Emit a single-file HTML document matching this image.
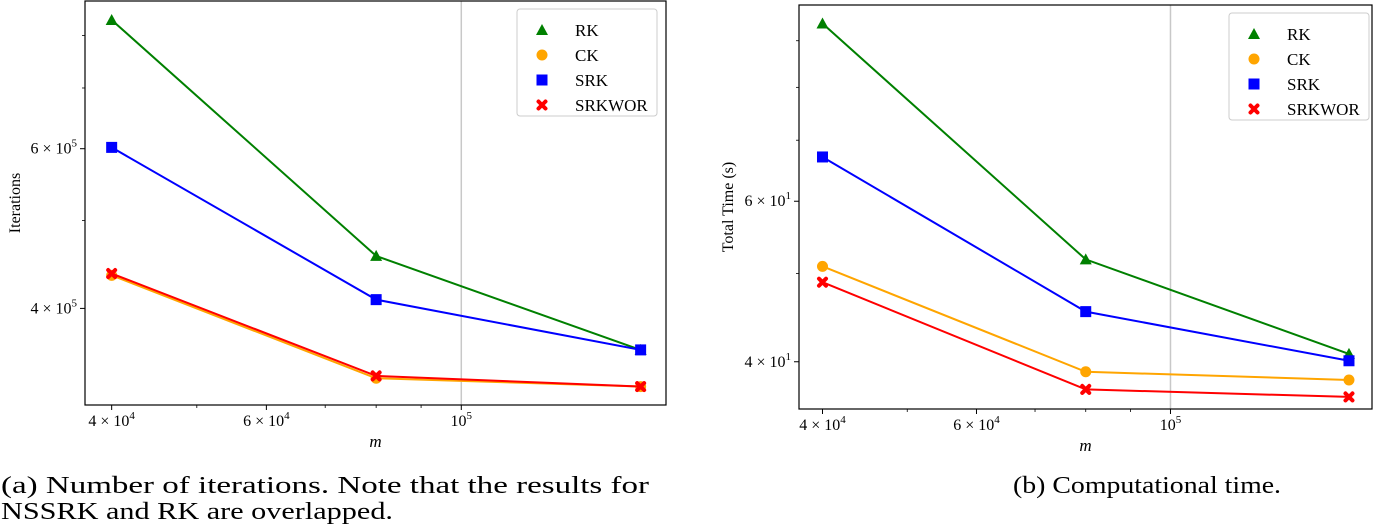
<!DOCTYPE html>
<html><head><meta charset="utf-8">
<style>
body{margin:0;background:#fff;width:1382px;height:530px;overflow:hidden;font-family:"Liberation Serif",serif;}
svg{position:absolute;left:0;top:0;}
</style></head>
<body>
<svg id="svg" width="1382" height="530">
<text x="1" y="493" font-size="24" textLength="648" lengthAdjust="spacingAndGlyphs">(a) Number of iterations. Note that the results for</text>
<text x="1" y="519" font-size="24" textLength="392" lengthAdjust="spacingAndGlyphs">NSSRK and RK are overlapped.</text>
<text x="1013" y="493" font-size="24" textLength="268" lengthAdjust="spacingAndGlyphs">(b) Computational time.</text>
</svg>
<script>
const mValues = [40000, 80000, 160000];
const seriesNames = ["RK", "CK", "SRK", "SRKWOR"];
const itersRK = [832000, 457000, 360000];
const itersCK = [435000, 335000, 328000];
const itersSRK = [602000, 409000, 360000];
const itersSRKWOR = [437000, 337000, 328000];
const timeRK = [94.0, 51.8, 40.8];
const timeCK = [50.9, 39.0, 38.2];
const timeSRK = [67.1, 45.4, 40.1];
const timeSRKWOR = [48.9, 37.3, 36.6];
const xTickVals = [40000, 60000, 100000];
const xTickLabels = ["4 × 10<tspan dy='-7' font-size='11'>4</tspan>", "6 × 10<tspan dy='-7' font-size='11'>4</tspan>", "10<tspan dy='-7' font-size='11'>5</tspan>"];
const yTicksA = [400000, 600000];
const yTickLabelsA = ["4 × 10<tspan dy='-7' font-size='11'>5</tspan>", "6 × 10<tspan dy='-7' font-size='11'>5</tspan>"];
const yTicksB = [40, 60];
const yTickLabelsB = ["4 × 10<tspan dy='-7' font-size='11'>1</tspan>", "6 × 10<tspan dy='-7' font-size='11'>1</tspan>"];

const NS="http://www.w3.org/2000/svg";
const svg=document.getElementById('svg');
function mk(tag,attrs,parent,name){const e=document.createElementNS(NS,tag);for(const k in attrs)e.setAttribute(k,attrs[k]);


(parent||svg).appendChild(e);return e;}
const colors={RK:"#008000",CK:"#ffa500",SRK:"#0000ff",SRKWOR:"#ff0000"};

function marker(g,s,x,y,name){
  const c=colors[s];
  if(s==="RK") mk('polygon',{points:`${x},${y-6} ${x-6},${y+5} ${x+6},${y+5}`,fill:c},g,name);
  else if(s==="CK") mk('circle',{cx:x,cy:y,r:5.5,fill:c},g,name);
  else if(s==="SRK") mk('rect',{x:x-5.5,y:y-5.5,width:11,height:11,fill:c},g,name);
  else { mk('path',{d:`M${x-3.5},${y-3.5}L${x+3.5},${y+3.5}M${x+3.5},${y-3.5}L${x-3.5},${y+3.5}`,stroke:c,'stroke-width':4,'stroke-linecap':'round'},g,name); }
}

function chart(o){
  const g=mk('g',{},svg,o.name);
  const lx=Math.log10(o.xmin), hx=Math.log10(o.xmax), ly=Math.log10(o.ymin), hy=Math.log10(o.ymax);
  const X=v=>o.L+(Math.log10(v)-lx)/(hx-lx)*(o.R-o.L);
  const Y=v=>o.B-(Math.log10(v)-ly)/(hy-ly)*(o.B-o.T);
  mk('line',{x1:X(100000),x2:X(100000),y1:o.T,y2:o.B,stroke:'#c8c8c8','stroke-width':1.5},g,'grid-line-1e5');
  xTickVals.forEach((v,i)=>{
    mk('line',{x1:X(v),x2:X(v),y1:o.B,y2:o.B+5,stroke:'#000','stroke-width':1},g,'x-tick');
    const t=mk('text',{x:X(v),y:o.B+21,'text-anchor':'middle','font-size':16},g,'x-tick-label');
    t.innerHTML=xTickLabels[i];
  });
  [50000,70000,80000,90000].forEach(v=>mk('line',{x1:X(v),x2:X(v),y1:o.B,y2:o.B+3,stroke:'#000','stroke-width':0.8},g,'x-minor-tick'));
  o.yt.forEach((v,i)=>{
    mk('line',{x1:o.L-5,x2:o.L,y1:Y(v),y2:Y(v),stroke:'#000','stroke-width':1},g,'y-tick');
    const t=mk('text',{x:o.L-8,y:Y(v)+5,'text-anchor':'end','font-size':16},g,'y-tick-label');
    t.innerHTML=o.ytl[i];
  });
  o.minor.forEach(v=>{if(v>o.ymin&&v<o.ymax)mk('line',{x1:o.L-3,x2:o.L,y1:Y(v),y2:Y(v),stroke:'#000','stroke-width':0.8},g,'y-minor-tick');});
  const xl=mk('text',{x:(o.L+o.R)/2,y:o.B+42,'text-anchor':'middle','font-size':17,'font-style':'italic'},g,'x-axis-title');xl.textContent='m';
  const yl=mk('text',{x:0,y:0,'text-anchor':'middle','font-size':16,transform:`translate(${o.ylx},${(o.T+o.B)/2}) rotate(-90)`},g,'y-axis-title');yl.textContent=o.ylabel;
  o.series.forEach((arr,si)=>{
    const s=seriesNames[si];
    mk('polyline',{points:arr.map((v,i)=>X(mValues[i])+','+Y(v)).join(' '),fill:'none',stroke:colors[s],'stroke-width':2},g,'line-'+s.toLowerCase());
    arr.forEach((v,i)=>marker(g,s,X(mValues[i]),Y(v),'point-'+s.toLowerCase()));
  });
  mk('rect',{x:o.L,y:o.T,width:o.R-o.L,height:o.B-o.T,fill:'none',stroke:'#000','stroke-width':1.2},g,'plot-frame');
  const lg=mk('g',{},g,'legend');
  mk('rect',{x:o.lgx,y:o.lgy,width:140,height:107,rx:3,fill:'#fff','fill-opacity':0.8,stroke:'#ccc'},lg,'legend-box');
  seriesNames.forEach((s,i)=>{
    const y=o.lgy+21+i*25;
    marker(lg,s,o.lgx+25,y,'legend-marker-'+s.toLowerCase());
    const t=mk('text',{x:o.lgx+58,y:y+6,'font-size':17},lg,'legend-label-'+s.toLowerCase());t.textContent=s;
  });
}
chart({name:'iterations-chart',L:85,R:666,T:1,B:405,xmin:37300,xmax:171000,ymin:313000,ymax:873000,
  yt:yTicksA,ytl:yTickLabelsA,minor:[500000,700000,800000],ylabel:'Iterations',ylx:20,
  series:[itersRK,itersCK,itersSRK,itersSRKWOR],lgx:517,lgy:9});
chart({name:'time-chart',L:799,R:1372,T:5,B:409,xmin:37600,xmax:170000,ymin:35.5,ymax:98.5,
  yt:yTicksB,ytl:yTickLabelsB,minor:[50,70,80,90],ylabel:'Total Time (s)',ylx:733,
  series:[timeRK,timeCK,timeSRK,timeSRKWOR],lgx:1229,lgy:13});
</script>
</body></html>
